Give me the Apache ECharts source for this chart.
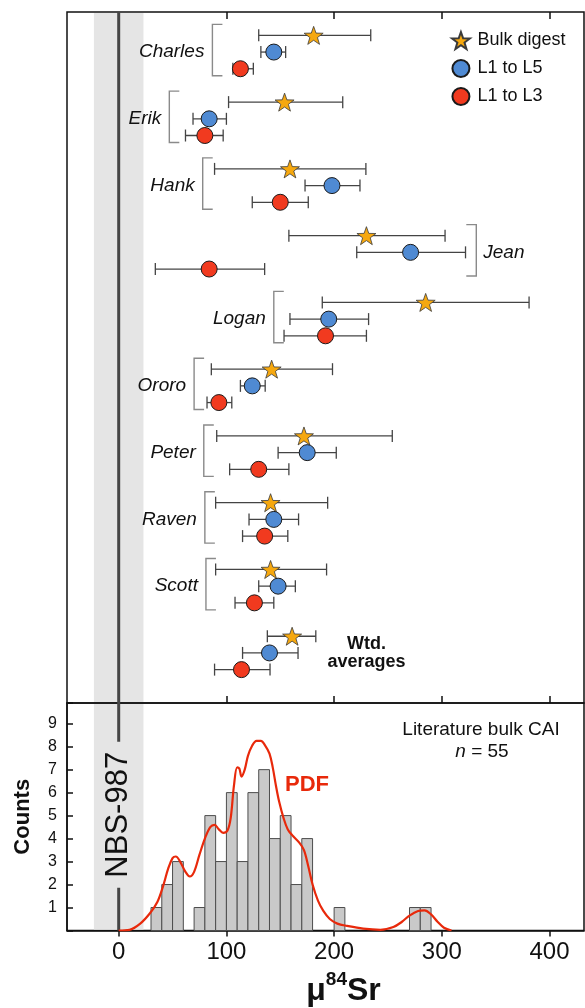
<!DOCTYPE html>
<html>
<head>
<meta charset="utf-8">
<script src="https://cdn.jsdelivr.net/npm/echarts@6/dist/echarts.min.js"></script>
<style>
  html, body { margin: 0; padding: 0; background: #fff; }
  #chart { width: 585px; height: 1008px; }
</style>
</head>
<body>
<div id="chart"></div>
<script>
// --- data ---
const groups = ["Charles", "Erik", "Hank", "Jean", "Logan", "Ororo", "Peter", "Raven", "Scott", "Wtd.\naverages"];
const groupRow = [0, 4, 8, 12, 16, 20, 24, 28, 32, 36];

const bulk   = [181, 154, 159, 230, 285, 142, 172, 141, 141, 161];
const bulkLo = [130, 102, 89, 158, 189, 86, 91, 90, 90, 138];
const bulkHi = [234, 208, 229.5, 303, 381, 198.5, 254, 194, 193, 183];

const l15   = [144, 84, 198, 271, 195, 124, 175, 144, 148, 140];
const l15Lo = [132, 69, 173, 221, 159, 113, 148, 121, 130, 115];
const l15Hi = [155, 100, 224, 322, 232, 136, 202, 167, 164, 166.5];

const l13   = [113, 80, 150, 84, 192, 93, 130, 135.5, 126, 114];
const l13Lo = [106, 62, 124, 34, 153.5, 82, 103, 115, 108, 89];
const l13Hi = [125, 97, 176, 135.5, 230, 105, 158, 157, 144, 140.5];

// bracket x (µ84Sr units) and side: -1 left bracket, 1 right bracket, 0 none
const bracketX = [87, 47, 78, 332, 144, 70, 79, 80, 81, 230];
const bracketSide = [-1, -1, -1, 1, -1, -1, -1, -1, -1, 0];

// literature histogram, 10-unit bins
const binStart = [30, 40, 50, 70, 80, 90, 100, 110, 120, 130, 140, 150, 160, 170, 200, 270, 280];
const binCount = [1, 2, 3, 1, 5, 3, 6, 3, 6, 7, 4, 5, 2, 4, 1, 1, 1];
const binWidth = 10;

// PDF curve (scaled to counts)
const pdfX = [0, 10, 20, 29, 36, 41, 46, 50, 53, 57, 62, 66, 70, 75, 80, 85, 89, 93, 97, 101, 104, 107, 110, 112, 114, 117, 120, 124, 128, 132, 136, 140, 143, 146, 149, 153, 157, 162, 168, 172, 176, 180, 185, 190, 196, 203, 212, 227, 243, 255, 263, 270, 278, 284, 290, 296, 302, 309];
const pdfY = [0, 0.03, 0.3, 0.75, 1.25, 1.9, 2.7, 3.15, 3.22, 3.0, 2.55, 2.35, 2.55, 3.3, 4.0, 4.5, 4.6, 4.4, 4.25, 4.35, 4.9, 6.3, 7.1, 7.05, 6.7, 7.0, 7.6, 8.05, 8.25, 8.25, 8.05, 7.7, 7.1, 6.3, 5.6, 4.9, 4.4, 4.1, 3.8, 3.5, 2.8, 2.0, 1.3, 0.85, 0.5, 0.3, 0.2, 0.08, 0.03, 0.15, 0.38, 0.65, 0.85, 0.88, 0.7, 0.38, 0.12, 0];

const xTicks = [0, 100, 200, 300, 400];
const refBand = [-23, 23];

const FONT = "'Liberation Sans', Arial, sans-serif";
const INK = "#111";
const BAND = "#e5e5e5";
const STAR = "path://M50,0 L61.76,33.82 L97.55,34.55 L69.02,56.18 L79.39,90.45 L50,70 L20.61,90.45 L30.98,56.18 L2.45,34.55 L38.24,33.82 Z";

const chart = echarts.init(document.getElementById("chart"));

function rowsOf(vals, k) {
  return vals.map((v, i) => [v, groupRow[i] + k]);
}
function barsOf(lo, hi, k) {
  return lo.map((v, i) => [v, hi[i], groupRow[i] + k]);
}

function renderErr(params, api) {
  const a = api.coord([api.value(0), api.value(2)]);
  const b = api.coord([api.value(1), api.value(2)]);
  const h = 6;
  const st = { stroke: "#444", lineWidth: 1.3 };
  return {
    type: "group",
    children: [
      { type: "line", shape: { x1: a[0], y1: a[1], x2: b[0], y2: b[1] }, style: st },
      { type: "line", shape: { x1: a[0], y1: a[1] - h, x2: a[0], y2: a[1] + h }, style: st },
      { type: "line", shape: { x1: b[0], y1: b[1] - h, x2: b[0], y2: b[1] + h }, style: st }
    ]
  };
}

function renderBracket(params, api) {
  const i = params.dataIndex;
  const side = api.value(3);
  const top = api.coord([api.value(0), api.value(1)]);
  const bot = api.coord([api.value(0), api.value(2)]);
  const mid = api.coord([api.value(0), (api.value(1) + api.value(2)) / 2]);
  if (side === 0) {
    return {
      type: "text",
      style: {
        text: groups[i], x: mid[0], y: mid[1], align: "center", verticalAlign: "middle",
        font: "bold 18px " + FONT, fill: INK, lineHeight: 18
      }
    };
  }
  const arm = 10 * (side < 0 ? 1 : -1);
  const y0 = top[1] - 11, y1 = bot[1] + 7;
  const x = top[0];
  return {
    type: "group",
    children: [
      {
        type: "polyline",
        shape: { points: [[x + arm, y0], [x, y0], [x, y1], [x + arm, y1]] },
        style: { stroke: "#8a8a8a", lineWidth: 1.4, fill: null }
      },
      {
        type: "text",
        style: {
          text: groups[i], x: side < 0 ? x - 8 : x + 7, y: mid[1],
          align: side < 0 ? "right" : "left", verticalAlign: "middle",
          font: "italic 19px " + FONT, fill: INK
        }
      }
    ]
  };
}

function renderBand(params, api) {
  const cs = params.coordSys;
  const a = api.coord([api.value(0), 0]);
  const b = api.coord([api.value(1), 0]);
  const z = api.coord([0, 0]);
  const children = [
    { type: "rect", shape: { x: a[0], y: cs.y + 1, width: b[0] - a[0], height: cs.height - 2 }, style: { fill: BAND } },
    { type: "line", shape: { x1: z[0], y1: cs.y, x2: z[0], y2: cs.y + cs.height }, style: { stroke: "#454545", lineWidth: 3 } }
  ];
  if (api.value(2) === 1) {
    children.push({
      type: "text",
      x: z[0], y: cs.y + cs.height / 2 - 2, rotation: Math.PI / 2,
      style: {
        text: "NBS-987", align: "center", verticalAlign: "middle",
        font: "31px " + FONT, fill: INK, backgroundColor: BAND, padding: [0, 10]
      }
    });
  }
  return { type: "group", children: children };
}

function renderBin(params, api) {
  const x0 = api.value(0);
  const p0 = api.coord([x0, api.value(1)]);
  const p1 = api.coord([x0 + binWidth, 0]);
  return {
    type: "rect",
    shape: { x: p0[0], y: p0[1], width: p1[0] - p0[0], height: p1[1] - p0[1] },
    style: { fill: "#c9c9c9", stroke: "#4d4d4d", lineWidth: 1 }
  };
}

const xMin = -48, xMax = 432;
const innerTick = { show: true, inside: true, length: 7, customValues: xTicks, lineStyle: { color: INK, width: 1.5 } };

const option = {
  animation: false,
  textStyle: { fontFamily: FONT },
  grid: [
    { left: 67, right: 1, top: 12, height: 691, show: true, borderColor: INK, borderWidth: 1.5, backgroundColor: "transparent" },
    { left: 67, right: 1, top: 703, height: 228, show: true, borderColor: INK, borderWidth: 1.5, backgroundColor: "transparent" }
  ],
  xAxis: [
    {
      gridIndex: 0, type: "value", position: "bottom", min: xMin, max: xMax,
      axisLine: { show: false, onZero: false }, splitLine: { show: false },
      axisTick: innerTick,
      axisLabel: { show: false }
    },
    {
      gridIndex: 0, type: "value", position: "top", min: xMin, max: xMax,
      axisLine: { show: false, onZero: false }, splitLine: { show: false },
      axisTick: innerTick,
      axisLabel: { show: false }
    },
    {
      gridIndex: 1, type: "value", position: "bottom", min: xMin, max: xMax,
      axisLine: { show: true, onZero: false, lineStyle: { color: INK, width: 1.5 } }, splitLine: { show: false },
      axisTick: { inside: false, length: 6, customValues: xTicks, lineStyle: { color: INK, width: 1.5 } },
      axisLabel: { fontSize: 24, color: INK, margin: 10, customValues: xTicks },
      name: "{b|μ}{s|84}{b|Sr}", nameLocation: "middle", nameGap: 40,
      nameTextStyle: {
        padding: [0, 0, 0, 36],
        rich: {
          b: { fontSize: 32, fontWeight: "bold", color: INK, fontFamily: FONT },
          s: { fontSize: 19, fontWeight: "bold", color: INK, fontFamily: FONT, padding: [0, 0, 22, 0] }
        }
      }
    }
  ],
  yAxis: [
    { gridIndex: 0, type: "value", inverse: true, min: -1.4, max: 40, show: false },
    {
      gridIndex: 1, type: "value", min: 0, max: 9.9, interval: 1,
      axisLine: { show: true, onZero: false, lineStyle: { color: INK, width: 1.5 } }, splitLine: { show: false },
      axisTick: { inside: true, length: 6, lineStyle: { color: INK, width: 1.5 } },
      axisLabel: { fontSize: 16, color: INK, margin: 10, formatter: v => (v >= 1 && v <= 9 && v % 1 === 0 ? String(v) : "") },
      name: "Counts", nameLocation: "middle", nameGap: 33,
      nameTextStyle: { fontSize: 22, fontWeight: "bold", color: INK }
    }
  ],
  legend: {
    orient: "vertical", left: 446, top: 26, itemWidth: 19, itemHeight: 17, itemGap: 9,
    selectedMode: false,
    textStyle: { fontSize: 18, color: INK, padding: [0, 0, 0, 2] },
    data: ["Bulk digest", "L1 to L5", "L1 to L3"]
  },
  graphic: [
    { type: "text", x: 481, y: 730, style: { text: "Literature bulk CAI", align: "center", verticalAlign: "middle", font: "19px " + FONT, fill: INK } },
    {
      type: "text", x: 482, y: 752,
      style: {
        text: "{i|n} = 55", align: "center", verticalAlign: "middle", font: "19px " + FONT, fill: INK,
        rich: { i: { fontStyle: "italic", fontSize: 19, fontFamily: FONT, fill: INK } }
      }
    },
    { type: "text", x: 307, y: 785, style: { text: "PDF", align: "center", verticalAlign: "middle", font: "bold 22px " + FONT, fill: "#e8290b" } }
  ],
  series: [
    { type: "custom", xAxisIndex: 0, yAxisIndex: 0, z: 1, silent: true, renderItem: renderBand, data: [[refBand[0], refBand[1], 0]] },
    { type: "custom", xAxisIndex: 2, yAxisIndex: 1, z: 1, silent: true, renderItem: renderBand, data: [[refBand[0], refBand[1], 1]] },
    { type: "custom", xAxisIndex: 0, yAxisIndex: 0, z: 3, silent: true, renderItem: renderBracket,
      data: bracketX.map((x, i) => [x, groupRow[i], groupRow[i] + 2, bracketSide[i]]) },
    { type: "custom", xAxisIndex: 0, yAxisIndex: 0, z: 4, silent: true, renderItem: renderErr, data: barsOf(bulkLo, bulkHi, 0) },
    { type: "custom", xAxisIndex: 0, yAxisIndex: 0, z: 4, silent: true, renderItem: renderErr, data: barsOf(l15Lo, l15Hi, 1) },
    { type: "custom", xAxisIndex: 0, yAxisIndex: 0, z: 4, silent: true, renderItem: renderErr, data: barsOf(l13Lo, l13Hi, 2) },
    {
      name: "Bulk digest", type: "scatter", xAxisIndex: 0, yAxisIndex: 0, z: 5,
      symbol: STAR, symbolSize: [19, 18],
      itemStyle: { color: "#f6a80f", borderColor: "#3a3a3a", borderWidth: 0.8, opacity: 1 },
      data: rowsOf(bulk, 0)
    },
    {
      name: "L1 to L5", type: "scatter", xAxisIndex: 0, yAxisIndex: 0, z: 5,
      symbol: "circle", symbolSize: 16,
      itemStyle: { color: "#4f8ad3", borderColor: "#1a1a1a", borderWidth: 1, opacity: 1 },
      data: rowsOf(l15, 1)
    },
    {
      name: "L1 to L3", type: "scatter", xAxisIndex: 0, yAxisIndex: 0, z: 5,
      symbol: "circle", symbolSize: 16,
      itemStyle: { color: "#f13a1f", borderColor: "#1a1a1a", borderWidth: 1, opacity: 1 },
      data: rowsOf(l13, 2)
    },
    {
      type: "custom", xAxisIndex: 2, yAxisIndex: 1, z: 3, silent: true, renderItem: renderBin,
      data: binStart.map((x, i) => [x, binCount[i]])
    },
    {
      type: "line", xAxisIndex: 2, yAxisIndex: 1, z: 4, silent: true,
      smooth: 0.35, showSymbol: false,
      lineStyle: { color: "#e8290b", width: 2.2 },
      data: pdfX.map((x, i) => [x, pdfY[i]])
    }
  ]
};

chart.setOption(option);
</script>
</body>
</html>
